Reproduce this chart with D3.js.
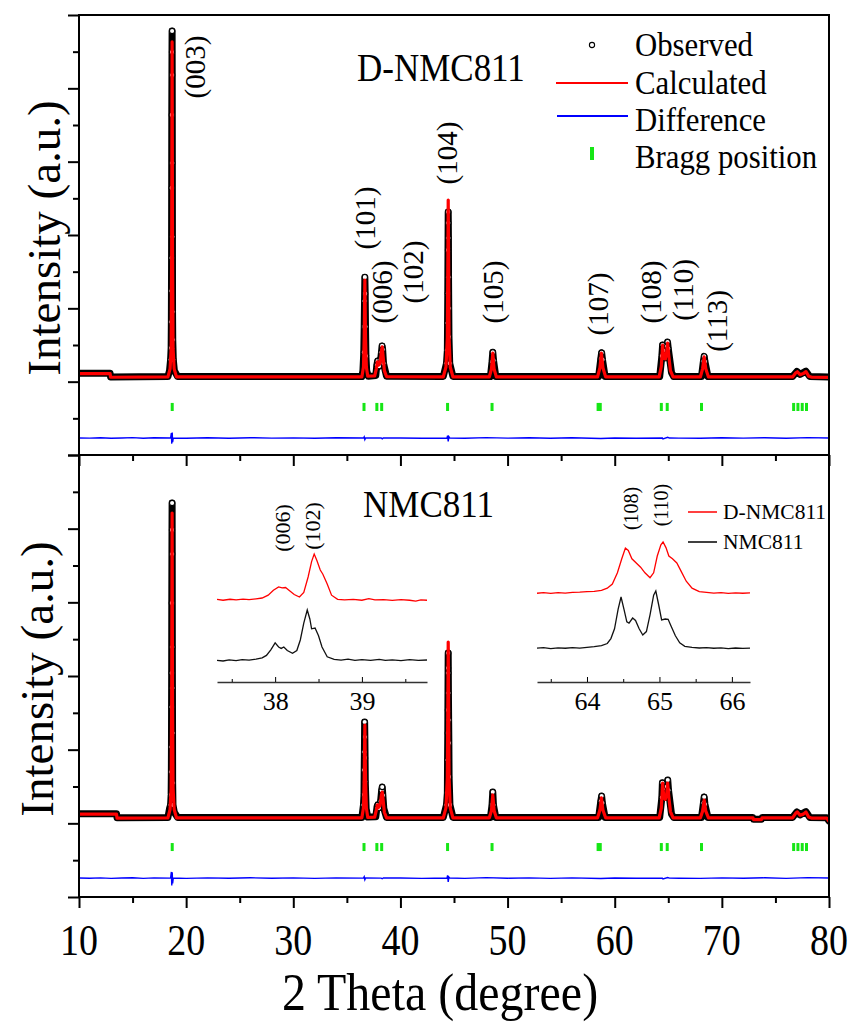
<!DOCTYPE html>
<html>
<head>
<meta charset="utf-8">
<script src="https://cdn.jsdelivr.net/npm/d3@7"></script>
<style>
  body { margin: 0; background: #fff; }
  svg { display: block; }
  text { font-family: "Liberation Serif", "Times New Roman", serif; fill: #000; }
</style>
</head>
<body>
<svg id="chart" width="854" height="1024"></svg>
<script>
// ---- data (2 theta in degrees, intensity in arbitrary counts) ----
var xMajor = [10, 20, 30, 40, 50, 60, 70, 80]
var xMinor = [15, 25, 35, 45, 55, 65, 75]
var yMajor = [-2000, 0, 2000, 4000, 6000, 8000, 10000]
var yMinor = [-1000, 1000, 3000, 5000, 7000, 9000]

var braggPos = [18.7, 36.6, 37.8, 38.25, 44.4, 48.55, 58.45, 58.65, 64.35, 64.9, 68.1, 76.7, 77.1, 77.5, 77.9]

var legendLabels = ['Observed', 'Calculated', 'Difference', 'Bragg position']

var peakLabels = ['(003)', '(101)', '(006)', '(102)', '(104)', '(105)', '(107)', '(108)', '(110)', '(113)']
var peakLabelAt = [[20.92, 8582], [36.79, 4464], [38.37, 2446], [41.27, 2991], [44.44, 6236],
  [48.73, 2446], [58.53, 2119], [63.48, 2446], [66.47, 2501], [69.64, 1656]]

// D-NMC811 (top)
var obsTop = [[10, 230], [12.9, 230], [12.95, 130], [18.3, 140], [18.45, 300], [18.55, 600], [18.6, 920],
  [18.62, 1630], [18.63, 2475], [18.64, 3375], [18.65, 5285], [18.66, 7275], [18.68, 8990], [18.69, 9565],
  [18.7, 8365], [18.71, 5965], [18.72, 3950], [18.73, 1905], [18.75, 1140], [18.8, 600], [18.9, 300], [19.2, 140],
  [36.4, 140], [36.5, 300], [36.58, 800], [36.62, 1500], [36.65, 2200], [36.68, 2850], [36.71, 2400],
  [36.74, 1500], [36.78, 700], [36.85, 300], [37.0, 150],
  [37.7, 170], [37.8, 450], [37.87, 560], [38.0, 420], [38.15, 600], [38.23, 800], [38.29, 975], [38.34, 880],
  [38.42, 500], [38.7, 150],
  [44.0, 140], [44.3, 500], [44.38, 860], [44.4, 1600], [44.42, 2410], [44.44, 3590], [44.46, 4630],
  [44.47, 4330], [44.48, 3920], [44.49, 2850], [44.51, 2000], [44.53, 1220], [44.6, 500], [44.9, 140],
  [48.4, 140], [48.55, 550], [48.62, 800], [48.69, 580], [48.9, 140],
  [58.5, 140], [58.7, 620], [58.78, 790], [58.86, 600], [59.1, 140],
  [64.2, 140], [64.4, 700], [64.47, 1000], [64.55, 850], [64.7, 650], [64.87, 950], [64.93, 1080],
  [65.0, 900], [65.3, 250], [65.5, 140],
  [68.1, 140], [68.28, 560], [68.35, 690], [68.42, 550], [68.7, 140],
  [76.6, 140], [77.0, 280], [77.3, 200], [77.85, 285], [78.2, 140], [80, 130]]

var calcTop = [[10, 220], [12.9, 220], [12.95, 120], [18.3, 130], [18.5, 350], [18.6, 900], [18.65, 3500],
  [18.69, 9265], [18.73, 3500], [18.78, 900], [18.88, 350], [19.1, 130],
  [36.4, 130], [36.55, 400], [36.62, 1200], [36.68, 2770], [36.74, 1200], [36.82, 400], [36.95, 150],
  [37.6, 160], [37.75, 350], [37.85, 540], [37.95, 450], [38.1, 500], [38.22, 800], [38.3, 950],
  [38.38, 700], [38.5, 300], [38.7, 140],
  [44.0, 130], [44.25, 400], [44.38, 1200], [44.46, 4955], [44.54, 1200], [44.65, 400], [44.9, 130],
  [48.3, 130], [48.5, 350], [48.62, 780], [48.74, 350], [48.95, 130],
  [58.4, 130], [58.62, 380], [58.76, 780], [58.9, 380], [59.15, 130],
  [64.15, 130], [64.35, 420], [64.47, 1000], [64.58, 640], [64.72, 620], [64.85, 800], [64.94, 1055],
  [65.05, 700], [65.2, 300], [65.45, 130],
  [68.0, 130], [68.2, 350], [68.35, 675], [68.5, 350], [68.75, 130],
  [76.6, 130], [76.9, 240], [77.05, 270], [77.3, 190], [77.6, 220], [77.85, 275], [78.1, 150], [78.4, 120],
  [80, 115]]

var diffTop = [[10, -1535], [11, -1540], [12, -1530], [13, -1545], [14, -1535], [15, -1525], [16, -1545],
  [17, -1530], [18.55, -1538], [18.62, -1400], [18.66, -1690], [18.7, -1390], [18.74, -1650], [18.8, -1535],
  [20, -1545], [22, -1530], [24, -1542], [26, -1528], [28, -1540], [30, -1532], [32, -1545], [34, -1530],
  [36.55, -1538], [36.62, -1505], [36.68, -1580], [36.75, -1535], [38.2, -1538], [38.3, -1560], [38.4, -1535],
  [40, -1535], [42, -1545], [44.35, -1535], [44.4, -1470],
  [44.46, -1630], [44.52, -1500], [44.6, -1535], [46, -1545], [48, -1525], [50, -1540], [52, -1530],
  [54, -1545], [56, -1530], [58.7, -1550], [60, -1535], [62, -1542], [64.45, -1538], [64.5, -1560],
  [64.95, -1518], [65.1, -1538], [66, -1540], [68, -1545], [70, -1530], [72, -1540], [74, -1528],
  [76, -1545], [78, -1525], [80, -1535]]

// NMC811 (bottom)
var obsBot = [[10, 260], [13.5, 260], [13.55, 150], [18.3, 160], [18.45, 400], [18.55, 500], [18.6, 772],
  [18.62, 1396], [18.63, 2071], [18.64, 3157], [18.65, 4080], [18.66, 5981], [18.68, 7966], [18.69, 8697],
  [18.7, 7312], [18.71, 4786], [18.72, 3673], [18.73, 2451], [18.74, 1098], [18.77, 500], [18.9, 300], [19.2, 160],
  [36.4, 160], [36.55, 500], [36.6, 774], [36.62, 1450], [36.64, 1940], [36.66, 2750], [36.68, 2342],
  [36.7, 1777], [36.72, 1127], [36.8, 400], [36.95, 170],
  [37.7, 180], [37.82, 450], [37.88, 500], [38.0, 420], [38.15, 600], [38.25, 900], [38.3, 985], [38.36, 760],
  [38.45, 400], [38.7, 160],
  [44.0, 160], [44.3, 500], [44.38, 826], [44.4, 1718], [44.42, 2451], [44.43, 3076], [44.45, 4216],
  [44.46, 4624], [44.47, 4080], [44.48, 3537], [44.5, 2805], [44.52, 2180], [44.54, 1260], [44.62, 500], [44.9, 160],
  [48.4, 160], [48.55, 500], [48.62, 850], [48.68, 500], [48.9, 160],
  [58.5, 160], [58.7, 600], [58.78, 740], [58.85, 550], [59.1, 160],
  [64.2, 160], [64.4, 700], [64.45, 1100], [64.52, 950], [64.7, 700], [64.88, 1000], [64.95, 1175],
  [65.02, 900], [65.3, 250], [65.5, 160],
  [68.1, 160], [68.28, 550], [68.35, 715], [68.42, 520], [68.7, 160],
  [72.9, 160], [72.95, 110], [73.7, 110], [73.75, 160],
  [76.6, 160], [77.0, 310], [77.3, 230], [77.85, 320], [78.2, 160], [79.8, 150], [80, 60]]

var calcBot = [[10, 250], [13.5, 250], [13.55, 140], [18.3, 150], [18.5, 380], [18.6, 950], [18.65, 3300],
  [18.69, 8425], [18.73, 3300], [18.78, 950], [18.88, 380], [19.1, 150],
  [36.4, 150], [36.55, 420], [36.62, 1200], [36.68, 2670], [36.74, 1200], [36.82, 420], [36.95, 160],
  [37.6, 170], [37.75, 360], [37.85, 500], [37.95, 430], [38.1, 480], [38.22, 760], [38.3, 850],
  [38.38, 650], [38.5, 300], [38.7, 150],
  [44.0, 150], [44.25, 420], [44.38, 1250], [44.46, 4922], [44.54, 1250], [44.65, 420], [44.9, 150],
  [48.3, 150], [48.5, 350], [48.62, 770], [48.74, 350], [48.95, 150],
  [58.4, 150], [58.62, 360], [58.76, 690], [58.9, 360], [59.15, 150],
  [64.15, 150], [64.35, 420], [64.47, 1095], [64.58, 700], [64.72, 650], [64.85, 800], [64.94, 1095],
  [65.05, 720], [65.2, 320], [65.45, 150],
  [68.0, 150], [68.2, 330], [68.35, 630], [68.5, 330], [68.75, 150],
  [72.9, 150], [72.95, 100], [73.7, 100], [73.75, 150],
  [76.6, 150], [76.9, 280], [77.05, 310], [77.3, 220], [77.6, 250], [77.85, 310], [78.1, 170], [78.4, 140],
  [79.8, 140], [80, 50]]

var diffBot = [[10, -1485], [11, -1492], [12, -1480], [13, -1495], [14, -1485], [15, -1476], [16, -1495],
  [17, -1480], [18.55, -1488], [18.62, -1320], [18.66, -1690], [18.7, -1330], [18.74, -1630], [18.8, -1485],
  [20, -1495], [22, -1480], [24, -1492], [26, -1478], [28, -1490], [30, -1482], [32, -1495], [34, -1480],
  [36.55, -1488], [36.62, -1450], [36.68, -1530], [36.75, -1485], [38.2, -1488], [38.3, -1505], [38.4, -1485],
  [40, -1485], [42, -1495], [44.35, -1485], [44.4, -1410],
  [44.46, -1590], [44.52, -1460], [44.6, -1485], [46, -1495], [48, -1475], [50, -1490], [52, -1480],
  [54, -1495], [56, -1480], [58.7, -1498], [60, -1485], [62, -1492], [64.45, -1488], [64.5, -1508],
  [64.95, -1470], [65.1, -1488], [66, -1490], [68, -1495], [70, -1480], [72, -1490], [74, -1478],
  [76, -1495], [78, -1475], [80, -1485]]

// insets (relative intensity)
var insetLeftTicks = [38, 39]
var insetLeftMinor = [37.5, 38.5, 39.5]
var insetRightTicks = [64, 65, 66]
var insetRightMinor = [63.5, 64.5, 65.5]
var insetLabels = ['(006)', '(102)', '(108)', '(110)']
var insetLabelAt = [[38.09, 110], [38.44, 111.4], [64.61, 124], [65.03, 126.4]]
var insetSeries = ['D-NMC811', 'NMC811']

var leftBlack = [[37.33, 15.5], [37.4, 15.0], [37.47, 15.8], [37.55, 15.3], [37.62, 16.0], [37.7, 15.6],
  [37.78, 16.4], [37.85, 17.2], [37.9, 19], [37.95, 23], [38.0, 27.9], [38.04, 25], [38.07, 24], [38.1, 25],
  [38.14, 22.5], [38.2, 20.5], [38.25, 22.5], [38.29, 30], [38.33, 42], [38.37, 51.4], [38.4, 45], [38.42, 38],
  [38.46, 38.5], [38.5, 33], [38.54, 25], [38.6, 18], [38.68, 16.2], [38.76, 15.6], [38.84, 16.3], [38.92, 15.5],
  [39.0, 16], [39.1, 15.4], [39.2, 16.2], [39.27, 15.5], [39.35, 15.8], [39.45, 15.3], [39.55, 16], [39.65, 15.5],
  [39.75, 15.7]]
var leftRed = [[37.33, 59], [37.4, 58.4], [37.48, 59.1], [37.55, 58.6], [37.63, 59.2], [37.7, 58.8], [37.78, 59.4],
  [37.85, 60], [37.92, 62], [37.98, 65.5], [38.04, 67.9], [38.08, 67.2], [38.12, 67.5], [38.17, 65], [38.22, 62.5],
  [38.28, 60.7], [38.33, 64], [38.38, 75], [38.42, 86], [38.45, 91.4], [38.48, 87], [38.52, 80], [38.55, 77],
  [38.6, 70], [38.65, 62], [38.72, 59], [38.8, 58.6], [38.9, 59], [39.0, 58.4], [39.08, 59.5], [39.15, 58.6],
  [39.25, 58.9], [39.35, 58.3], [39.45, 58.8], [39.55, 58.4], [39.62, 57.8], [39.68, 58.6], [39.75, 58.4]]
var rightBlack = [[63.31, 24.2], [63.4, 24.5], [63.5, 23.9], [63.6, 24.4], [63.7, 24.1], [63.8, 24.6], [63.9, 24.2],
  [64.0, 24.8], [64.1, 25.2], [64.2, 26], [64.28, 27.5], [64.33, 31], [64.38, 38], [64.43, 52], [64.47, 60.7],
  [64.51, 52], [64.55, 43], [64.58, 42.1], [64.63, 45.7], [64.67, 44], [64.72, 38], [64.77, 33.6], [64.82, 36],
  [64.87, 48], [64.92, 62], [64.95, 65], [64.99, 55], [65.03, 44.3], [65.08, 45], [65.12, 44.8], [65.16, 40],
  [65.22, 33], [65.28, 28], [65.35, 25.5], [65.45, 24.8], [65.55, 24.3], [65.65, 24.6], [65.75, 24.1],
  [65.85, 24.4], [65.95, 23.9], [66.05, 24.3], [66.15, 24], [66.25, 24.2]]
var rightRed = [[63.31, 63.4], [63.4, 63.8], [63.5, 63.3], [63.6, 63.9], [63.7, 63.5], [63.8, 64], [63.9, 64.2],
  [64.0, 64.6], [64.1, 64.8], [64.2, 65.5], [64.28, 67], [64.35, 70], [64.42, 78], [64.48, 88], [64.53, 95.7],
  [64.57, 94], [64.62, 88], [64.68, 85], [64.74, 82], [64.8, 78], [64.87, 74.5], [64.92, 78], [64.97, 90],
  [65.02, 98], [65.05, 100], [65.09, 96], [65.13, 90], [65.18, 88], [65.24, 85], [65.3, 79], [65.37, 72],
  [65.45, 67], [65.55, 64.5], [65.65, 64], [65.75, 63.5], [65.85, 63.9], [65.95, 63.3], [66.05, 63.7],
  [66.15, 63.4], [66.25, 63.6]]

// ---- drawing ----
var RED = '#ff0000'
var BLUE = '#0000ff'
var GREEN = '#16e616'

var svg = d3.select('#chart')
var left = 79, right = 829

var x = d3.scaleLinear().domain([10, 80]).range([left, right])

var panels = [
  { y: d3.scaleLinear().domain([-2000, 10000]).range([455, 15]), obs: obsTop, calc: calcTop, diff: diffTop,
    bragg: [-580, -800], id: 'top', titleX: 60 },
  { y: d3.scaleLinear().domain([-2000, 10000]).range([897, 455]), obs: obsBot, calc: calcBot, diff: diffBot,
    bragg: [-535, -752], id: 'bot', titleX: 53 }
]

function stretchText (g, tx, ty, sy, txt, size, anchor) {
  return g.append('text')
    .attr('transform', 'translate(' + tx + ',' + ty + ') scale(1,' + sy + ')')
    .attr('font-size', size)
    .attr('text-anchor', anchor || 'start')
    .text(txt)
}

panels.forEach(function (p) {
  var y = p.y
  var top = y.range()[1], bottom = y.range()[0]

  svg.append('clipPath').attr('id', 'clip-' + p.id)
    .append('rect').attr('x', left).attr('y', top).attr('width', right - left).attr('height', bottom - top)

  var g = svg.append('g').attr('clip-path', 'url(#clip-' + p.id + ')')
  var line = d3.line().x(function (d) { return x(d[0]) }).y(function (d) { return y(d[1]) })

  // observed: dense points form a black band, sparse ones on the peaks are open circles
  g.append('path').datum(p.obs)
    .attr('d', line).attr('fill', 'none').attr('stroke', '#000')
    .attr('stroke-width', 7).attr('stroke-linejoin', 'round').attr('stroke-linecap', 'round')
  g.selectAll('circle.obs').data(p.obs.filter(function (d) { return d[1] > 400 }))
    .join('circle').attr('class', 'obs')
    .attr('cx', function (d) { return x(d[0]) }).attr('cy', function (d) { return y(d[1]) })
    .attr('r', 2.6).attr('fill', '#fff').attr('stroke', '#000').attr('stroke-width', 1.1)

  g.append('path').datum(p.calc)
    .attr('d', line).attr('fill', 'none').attr('stroke', RED)
    .attr('stroke-width', 3.2).attr('stroke-linejoin', 'round')

  g.selectAll('rect.bragg').data(braggPos).join('rect').attr('class', 'bragg')
    .attr('x', function (d) { return x(d) - 1.5 }).attr('width', 3)
    .attr('y', y(p.bragg[0])).attr('height', y(p.bragg[1]) - y(p.bragg[0]))
    .attr('fill', GREEN)

  g.append('path').datum(p.diff)
    .attr('d', line).attr('fill', 'none').attr('stroke', BLUE).attr('stroke-width', 1.4)

  // y ticks (no labels)
  svg.append('g').attr('transform', 'translate(' + left + ',0)')
    .call(d3.axisLeft(y).tickValues(yMajor).tickSize(11).tickSizeOuter(0).tickFormat(''))
    .call(function (a) { a.select('.domain').remove() })
    .selectAll('line').attr('stroke-width', 2)
  svg.append('g').attr('transform', 'translate(' + left + ',0)')
    .call(d3.axisLeft(y).tickValues(yMinor).tickSize(6).tickSizeOuter(0).tickFormat(''))
    .call(function (a) { a.select('.domain').remove() })
    .selectAll('line').attr('stroke-width', 2)

  // x ticks at the bottom edge of each panel
  svg.append('g').attr('transform', 'translate(0,' + bottom + ')')
    .call(d3.axisBottom(x).tickValues(xMajor).tickSize(11).tickSizeOuter(0).tickFormat(''))
    .call(function (a) { a.select('.domain').remove() })
    .selectAll('line').attr('stroke-width', 2)
  svg.append('g').attr('transform', 'translate(0,' + bottom + ')')
    .call(d3.axisBottom(x).tickValues(xMinor).tickSize(6).tickSizeOuter(0).tickFormat(''))
    .call(function (a) { a.select('.domain').remove() })
    .selectAll('line').attr('stroke-width', 2)

  svg.append('rect').attr('x', left).attr('y', top).attr('width', right - left).attr('height', bottom - top)
    .attr('fill', 'none').attr('stroke', '#000').attr('stroke-width', 2)

  // y title
  svg.append('text')
    .attr('transform', 'translate(' + p.titleX + ',' + ((top + bottom) / 2 + 3) + ') rotate(-90)')
    .attr('text-anchor', 'middle').attr('font-size', 47)
    .text('Intensity (a.u.)')
})

// x tick labels and title
xMajor.forEach(function (t) {
  stretchText(svg, x(t), 955, 1.15, String(t), 38, 'middle')
})
stretchText(svg, 440, 1010, 1.12, '2 Theta (degree)', 48, 'middle')

// peak labels (top panel), reading bottom to top
var yT = panels[0].y
svg.selectAll('text.hkl').data(peakLabels).join('text').attr('class', 'hkl')
  .attr('transform', function (d, i) {
    return 'translate(' + x(peakLabelAt[i][0]) + ',' + yT(peakLabelAt[i][1]) + ') rotate(-90)'
  })
  .attr('text-anchor', 'middle').attr('dy', '0.32em').attr('font-size', 29)
  .text(function (d) { return d })

stretchText(svg, 357, 81, 1.15, 'D-NMC811', 35)
stretchText(svg, 363, 517, 1.1, 'NMC811', 35)

// legend (top panel)
var lg = svg.append('g')
var legY = [45, 83, 120, 157]
legendLabels.forEach(function (t, i) {
  stretchText(lg, 635, legY[i] + 11, 1.06, t, 30.8)
})
lg.append('circle').attr('cx', 592).attr('cy', legY[0]).attr('r', 2.6)
  .attr('fill', '#fff').attr('stroke', '#000').attr('stroke-width', 1.1)
lg.append('line').attr('x1', 556).attr('x2', 628).attr('y1', legY[1]).attr('y2', legY[1])
  .attr('stroke', RED).attr('stroke-width', 2.2)
lg.append('line').attr('x1', 557).attr('x2', 628).attr('y1', legY[2] - 4).attr('y2', legY[2] - 4)
  .attr('stroke', BLUE).attr('stroke-width', 2.2)
lg.append('rect').attr('x', 590).attr('y', legY[3] - 10).attr('width', 4).attr('height', 13).attr('fill', GREEN)

// insets
var yIn = d3.scaleLinear().domain([0, 100]).range([682, 542])
var insets = [
  { x: d3.scaleLinear().domain([37.33, 39.75]).range([217, 427]), red: leftRed, black: leftBlack,
    ticks: insetLeftTicks, minor: insetLeftMinor, labels: [0, 1], size: 22 },
  { x: d3.scaleLinear().domain([63.31, 66.25]).range([537, 750]), red: rightRed, black: rightBlack,
    ticks: insetRightTicks, minor: insetRightMinor, labels: [2, 3], size: 20 }
]
insets.forEach(function (ins) {
  var l = d3.line().x(function (d) { return ins.x(d[0]) }).y(function (d) { return yIn(d[1]) })
  svg.append('path').datum(ins.red).attr('d', l).attr('fill', 'none').attr('stroke', RED).attr('stroke-width', 1.3)
  svg.append('path').datum(ins.black).attr('d', l).attr('fill', 'none').attr('stroke', '#111').attr('stroke-width', 1.3)

  var ax = svg.append('g').attr('transform', 'translate(0,682)')
    .call(d3.axisBottom(ins.x).tickValues(ins.ticks).tickFormat(d3.format('d'))
      .tickSize(-5).tickSizeOuter(0).tickPadding(10))
  ax.select('.domain').attr('stroke', '#333').attr('stroke-width', 1.5)
  ax.selectAll('text').attr('font-size', 26)
  svg.append('g').attr('transform', 'translate(0,682)')
    .call(d3.axisBottom(ins.x).tickValues(ins.minor).tickSize(-3).tickSizeOuter(0).tickFormat(''))
    .call(function (a) { a.select('.domain').remove() })

  ins.labels.forEach(function (k) {
    svg.append('text')
      .attr('transform', 'translate(' + ins.x(insetLabelAt[k][0]) + ',' + yIn(insetLabelAt[k][1]) + ') rotate(-90)')
      .attr('text-anchor', 'middle').attr('dy', '0.32em').attr('font-size', ins.size)
      .text(insetLabels[k])
  })
})

// inset legend
var il = svg.append('g')
insetSeries.forEach(function (t, i) {
  var yy = 512 + i * 30
  il.append('line').attr('x1', 688).attr('x2', 717).attr('y1', yy).attr('y2', yy)
    .attr('stroke', i === 0 ? RED : '#000').attr('stroke-width', 1.5)
  il.append('text').attr('x', 723).attr('y', yy + 7).attr('font-size', 21.5).text(t)
})
</script>
</body>
</html>
